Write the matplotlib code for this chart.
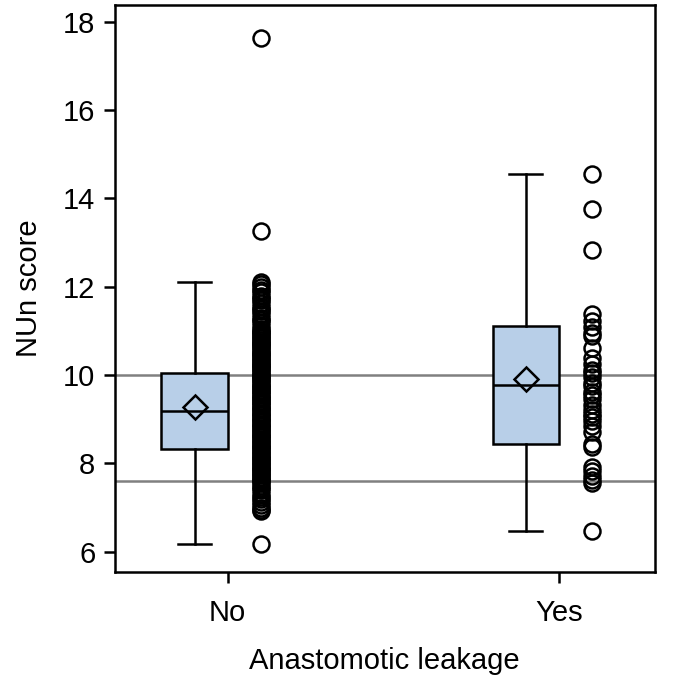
import numpy as np
import matplotlib
matplotlib.use('Agg')
import matplotlib.pyplot as plt

plt.rcParams['font.family'] = ['Liberation Sans', 'DejaVu Sans']

groups = ['No', 'Yes']

# box statistics
q1 = [8.33, 8.45]
med = [9.19, 9.78]
q3 = [10.05, 11.10]
means = [9.28, 9.92]
wlo = [6.18, 6.48]
whi = [12.11, 14.55]

# individual scores
no_scores = [17.62, 13.27, 12.10, 12.05, 12.00, 11.93, 11.88, 11.80, 11.75, 11.70,
             11.62, 11.55, 11.50, 11.45, 11.38, 11.30, 11.25, 11.20, 11.12, 11.05,
             11.00, 10.95, 10.90, 10.85, 10.80, 10.75, 10.70, 10.65, 10.60, 10.55,
             10.50, 10.45, 10.40, 10.35, 10.30, 10.25, 10.20, 10.15, 10.10, 10.05,
             10.00, 9.95, 9.90, 9.85, 9.80, 9.75, 9.70, 9.65, 9.60, 9.55,
             9.50, 9.45, 9.40, 9.35, 9.30, 9.25, 9.20, 9.15, 9.10, 9.05,
             9.00, 8.95, 8.90, 8.85, 8.80, 8.75, 8.70, 8.65, 8.60, 8.55,
             8.50, 8.45, 8.40, 8.35, 8.30, 8.25, 8.20, 8.15, 8.10, 8.05,
             8.00, 7.95, 7.90, 7.85, 7.80, 7.75, 7.70, 7.65, 7.60, 7.55,
             7.50, 7.45, 7.40, 7.32, 7.25, 7.20, 7.12, 7.05, 7.00, 6.95,
             6.92, 6.18,
             # extra cases filling the dense middle
             10.98, 10.87, 10.72, 10.63, 10.48, 10.37, 10.22, 10.13, 9.98, 9.88,
             9.73, 9.63, 9.48, 9.38, 9.23, 9.13, 8.98, 8.88, 8.73, 8.63,
             8.48, 8.38, 8.23, 8.13, 7.98, 7.88, 7.73, 7.63]
yes_scores = [14.55, 13.75, 12.83, 11.38, 11.22, 11.08, 10.95, 10.88, 10.62, 10.38,
              10.25, 10.12, 10.05, 9.95, 9.82, 9.75, 9.62, 9.55, 9.45, 9.32,
              9.22, 9.12, 9.05, 8.95, 8.85, 8.72, 8.45, 8.38, 7.92, 7.82,
              7.72, 7.62, 7.55, 6.48]

ref_lines = [10.0, 7.6]

fig = plt.figure(figsize=(6.75, 6.79), dpi=100)
ax = fig.add_axes([0.170, 0.158, 0.800, 0.835])

for y in ref_lines:
    ax.axhline(y, color='#808080', lw=1.8, zorder=1)

pos = np.array([1, 2])
stats = []
for i in range(2):
    stats.append(dict(med=med[i], q1=q1[i], q3=q3[i], whislo=wlo[i], whishi=whi[i],
                      mean=means[i], fliers=[]))

lw = 1.8
ax.bxp(stats, positions=pos - 0.1, widths=0.2, capwidths=0.1, showmeans=True,
       patch_artist=True, manage_ticks=False,
       boxprops=dict(facecolor='#b8cfe8', edgecolor='black', linewidth=lw),
       medianprops=dict(color='black', linewidth=lw),
       whiskerprops=dict(color='black', linewidth=lw),
       capprops=dict(color='black', linewidth=lw),
       meanprops=dict(marker='D', markerfacecolor='none', markeredgecolor='black',
                      markersize=12.5, markeredgewidth=lw),
       zorder=3)

for i, vals in enumerate([no_scores, yes_scores]):
    ax.plot([pos[i] + 0.1] * len(vals), vals, 'o', mfc='none', mec='black',
            ms=11.5, mew=lw, zorder=4)

ax.set_xlim(0.659, 2.29)
ax.set_ylim(5.55, 18.38)
ax.set_xticks(pos)
ax.set_xticklabels(groups)
ax.set_yticks([6, 8, 10, 12, 14, 16, 18])
ax.tick_params(axis='both', labelsize=21, width=lw, length=8, pad=6)
ax.tick_params(axis='x', pad=12)
ax.set_xlabel('Anastomotic leakage', fontsize=21, labelpad=14)
ax.set_ylabel('NUn score', fontsize=21, labelpad=14)
for s in ax.spines.values():
    s.set_linewidth(lw)

fig.savefig('out.png', dpi=100)
